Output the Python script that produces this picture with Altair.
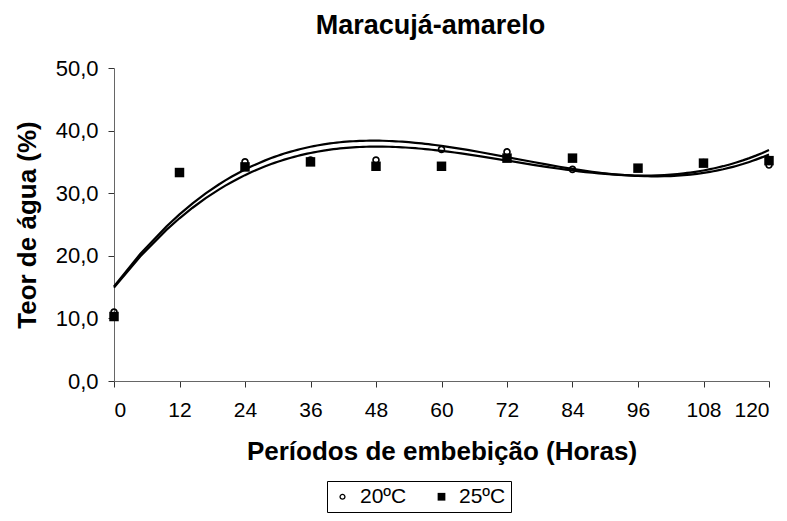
import altair as alt
import pandas as pd

hours = [0, 12, 24, 36, 48, 60, 72, 84, 96, 108, 120]
t20 = [11.0, 33.3, 35.0, 35.3, 35.3, 37.0, 36.6, 33.8, 34.0, 34.9, 34.5]
t25 = [10.3, 33.3, 34.2, 35.0, 34.3, 34.3, 35.6, 35.6, 34.0, 34.8, 35.2]
series = ["20ºC", "25ºC"]
y_ticks = [0, 10, 20, 30, 40, 50]

df = pd.DataFrame({
    "h": hours + hours,
    "v": t20 + t25,
    "s": [series[0]] * len(hours) + [series[1]] * len(hours),
})

FONT = "Liberation Sans"
# open ring (outer clockwise, inner counter-clockwise -> hole) and filled square
RING = ("M-0.8,0A0.8,0.8 0 1,0 0.8,0A0.8,0.8 0 1,0 -0.8,0Z"
        "M-0.45,0A0.45,0.45 0 1,1 0.45,0A0.45,0.45 0 1,1 -0.45,0Z")
SQUARE = "M-1,-1H1V1H-1Z"

x_enc = alt.X(
    "h:Q",
    scale=alt.Scale(domain=[0, 120], nice=False, zero=False),
    axis=alt.Axis(
        values=hours, title="Períodos de embebição (Horas)", grid=False,
        labelFontSize=21, titleFontSize=26, titleFontWeight="bold",
        labelPadding=12, titlePadding=18, tickSize=6,
        domainColor="#666", tickColor="#333", labelColor="black", titleColor="black",
        labelFont=FONT, titleFont=FONT,
    ),
)
y_enc = alt.Y(
    "v:Q",
    scale=alt.Scale(domain=[0, 50], nice=False),
    axis=alt.Axis(
        values=y_ticks, title="Teor de água (%)", grid=False,
        labelExpr="replace(format(datum.value, '.1f'), '.', ',')",
        labelFontSize=22, titleFontSize=26, titleFontWeight="bold",
        labelPadding=10, titlePadding=15, tickSize=6,
        domainColor="#666", tickColor="#333", labelColor="black", titleColor="black",
        labelFont=FONT, titleFont=FONT,
    ),
)

lines = alt.Chart(df).transform_regression(
    "h", "v", groupby=["s"], method="poly", order=3, extent=[0, 120]
).mark_line(color="black", strokeWidth=2.2).encode(
    x=alt.X("h:Q"), y=alt.Y("v:Q"), detail="s:N"
)

legend = alt.Legend(
    title=None, orient="none", legendX=213, legendY=413, direction="horizontal",
    strokeColor="black", padding=5, labelFontSize=21, labelFont=FONT,
    labelColor="black", symbolSize=60, symbolFillColor="black", symbolStrokeWidth=0,
    columnPadding=24, labelOffset=7,
)

points = alt.Chart(df).mark_point(filled=True, color="black", strokeWidth=0, opacity=1, size=90).encode(
    x=x_enc,
    y=y_enc,
    shape=alt.Shape("s:N", scale=alt.Scale(domain=series, range=[RING, SQUARE]), legend=legend),
)

chart = alt.layer(points, lines).properties(
    width=655,
    height=313,
    title=alt.TitleParams("Maracujá-amarelo", fontSize=27, fontWeight="bold", font=FONT,
                          anchor="middle", offset=17, dx=-11, color="black"),
    autosize=alt.AutoSizeParams(type="none"),
    padding={"left": 106, "top": 60, "right": 10, "bottom": 132},
).configure_view(stroke=None)

chart.save("out.html", embed_options={"renderer": "svg", "actions": False})
